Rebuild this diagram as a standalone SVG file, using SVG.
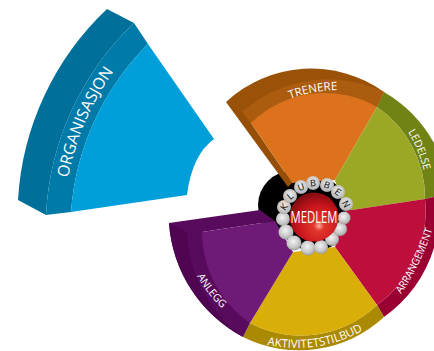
<svg xmlns="http://www.w3.org/2000/svg" width="434" height="351" viewBox="0 0 434 351">
<style>
text{font-family:"Open Sans","DejaVu Sans",sans-serif;fill:#fff;font-size:11px;}
.bl{font-family:"DejaVu Sans",sans-serif;font-size:9px;fill:#222;text-anchor:middle;}
</style>
<defs>
<radialGradient id="bead" cx="0.45" cy="0.4" r="0.7"><stop offset="0" stop-color="#f4f4f4"/><stop offset="0.6" stop-color="#c4c4c4"/><stop offset="1" stop-color="#888"/></radialGradient>
<radialGradient id="lbead" cx="0.5" cy="0.4" r="0.7"><stop offset="0" stop-color="#f0f0f0"/><stop offset="0.75" stop-color="#b8b8b8"/><stop offset="1" stop-color="#707070"/></radialGradient>
<radialGradient id="ball" cx="0.6" cy="0.68" r="0.7"><stop offset="0" stop-color="#f6b0a0"/><stop offset="0.15" stop-color="#e2382c"/><stop offset="0.6" stop-color="#c8141c"/><stop offset="1" stop-color="#7c0c10"/></radialGradient>
<path id="pOrg" d="M68 178Q80 118 116 68"/>
<path id="pTre" d="M290 99Q314 90 340 90"/>
<path id="pLed" d="M408 132Q418 148 424 171"/>
<path id="pArr" d="M401 294Q421 265 433 228"/>
<path id="pAkt" d="M267 345Q318 355 362 331"/>
<path id="pAnl" d="M197 276Q207 294 223 309"/>
</defs>
<g id="organisasjon">
<path d="M107 9L134 23A285 285 0 0 0 46 215L18 200A285 285 0 0 1 107 9Z" fill="#006f99"/>
<path d="M134 23L148 44A265 265 0 0 0 71 212L46 215A285 285 0 0 1 134 23Z" fill="#007aa8"/>
<path d="M148 44L214 139Q192 155 187 195L71 212A265 265 0 0 1 148 44Z" fill="#009fda"/>
<text style="font-size:16px"><textPath href="#pOrg">ORGANISASJON</textPath></text>
</g>
<g id="connectors"></g>
<g id="klubben-base">
<circle cx="292" cy="205" r="34" fill="#000"/>
<circle cx="314" cy="214" r="37" fill="#000"/>
</g>
<g id="trenere">
<path d="M226 102A125 125 0 0 1 384 92L377 107L251 123Z" fill="#9a5208"/>
<path d="M242 112A130 130 0 0 1 384 92L377 107A115 115 0 0 0 251 123Z" fill="#ab5c0e"/>
<path d="M226 102L242 112L251 123L292 183L288 187Z" fill="#974f08"/>
<path d="M251 123A105 105 0 0 1 377 107L335 180L292 183Z" fill="#dc731c"/>
<text style="font-size:11.5px"><textPath href="#pTre">TRENERE</textPath></text>
</g>
<g id="ledelse">
<path d="M384 92A135 135 0 0 1 434 143V197L425 199A110 110 0 0 0 377 107Z" fill="#728316"/>
<path d="M377 107A110 110 0 0 1 425 199L345 211L335 180Z" fill="#9ba826"/>
<text style="font-size:10.5px"><textPath href="#pLed">LEDELSE</textPath></text>
</g>
<g id="arrangement">
<path d="M434 197V248A135 135 0 0 1 384 317L377 305A115 115 0 0 0 425 199Z" fill="#9a0032"/>
<path d="M425 199A115 115 0 0 1 377 305L335 247L345 211Z" fill="#be0f3c"/>
<text style="font-size:10.5px" textLength="72" lengthAdjust="spacingAndGlyphs"><textPath href="#pArr">ARRANGEMENT</textPath></text>
</g>
<g id="aktivitetstilbud">
<path d="M250 323A110 110 0 0 0 377 305L384 317A125 125 0 0 1 243 337Z" fill="#ab8a03"/>
<path d="M293 252L335 247L377 305A110 110 0 0 1 250 323Z" fill="#d9ae08"/>
<text style="font-size:11.5px"><textPath href="#pAkt">AKTIVITETSTILBUD</textPath></text>
</g>
<g id="anlegg">
<path d="M169 223L260 210L275 221L202 232L250 323L243 337A140 140 0 0 1 169 223Z" fill="#580a5c"/>
<path d="M169 223L187 232A135 135 0 0 0 243 337A140 140 0 0 1 169 223Z" fill="#4f0552"/>
<path d="M202 232L275 221L293 252L250 323A110 110 0 0 1 202 232Z" fill="#6e1a76"/>
<text style="font-size:10.5px"><textPath href="#pAnl">ANLEGG</textPath></text>
</g>
<g id="klubben">
<circle cx="283" cy="219" r="7" fill="url(#bead)"/>
<circle cx="286" cy="232" r="7.5" fill="url(#bead)"/>
<circle cx="294" cy="243" r="7.5" fill="url(#bead)"/>
<circle cx="308" cy="248" r="7.5" fill="url(#bead)"/>
<circle cx="321" cy="247" r="7" fill="url(#bead)"/>
<circle cx="332" cy="239" r="7" fill="url(#bead)"/>
<circle cx="340" cy="229" r="7" fill="url(#bead)"/>
<circle cx="344" cy="218" r="6.5" fill="url(#bead)"/>
<circle cx="284" cy="207" r="7" fill="url(#lbead)"/><text class="bl" transform="translate(284 207) rotate(-55)" y="3.3">K</text>
<circle cx="290" cy="196" r="7" fill="url(#lbead)"/><text class="bl" transform="translate(290 196) rotate(-40)" y="3.3">L</text>
<circle cx="301" cy="187" r="7" fill="url(#lbead)"/><text class="bl" transform="translate(301 187) rotate(-20)" y="3.3">U</text>
<circle cx="313" cy="183" r="7" fill="url(#lbead)"/><text class="bl" transform="translate(313 183) rotate(-5)" y="3.3">B</text>
<circle cx="327" cy="185" r="7" fill="url(#lbead)"/><text class="bl" transform="translate(327 185) rotate(20)" y="3.3">B</text>
<circle cx="338" cy="192" r="7" fill="url(#lbead)"/><text class="bl" transform="translate(338 192) rotate(35)" y="3.3">E</text>
<circle cx="346" cy="204" r="7" fill="url(#lbead)"/><text class="bl" transform="translate(346 204) rotate(60)" y="3.3">N</text>
</g>
<g id="medlem">
<circle cx="314" cy="217" r="24.5" fill="url(#ball)"/>
<text x="314" y="223" text-anchor="middle" style="font-size:16px" textLength="47" lengthAdjust="spacingAndGlyphs">MEDLEM</text>
</g>
</svg>
